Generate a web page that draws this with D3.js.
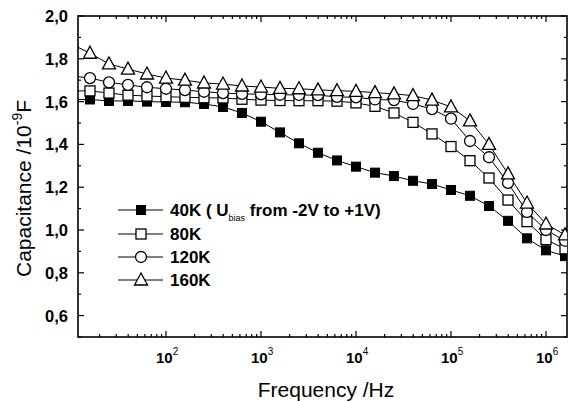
<!DOCTYPE html>
<html><head><meta charset="utf-8">
<script src="https://cdn.jsdelivr.net/npm/d3@7"></script>
<style>body{margin:0;background:#fff}svg{display:block}</style>
</head><body>
<script>
// log10 of frequency for each measured point (0.2 decade steps)
const logFreq = [1.0,1.2,1.4,1.6,1.8,2.0,2.2,2.4,2.6,2.8,3.0,3.2,3.4,3.6,3.8,4.0,4.2,4.4,4.6,4.8,5.0,5.2,5.4,5.6,5.8,6.0,6.2];
const c40K  = [1.61,1.61,1.603,1.603,1.60,1.598,1.597,1.589,1.575,1.547,1.506,1.456,1.405,1.361,1.325,1.296,1.268,1.252,1.230,1.215,1.187,1.160,1.112,1.043,0.961,0.905,0.878];
const c80K  = [1.65,1.65,1.64,1.63,1.626,1.623,1.62,1.618,1.617,1.611,1.607,1.605,1.604,1.604,1.602,1.594,1.578,1.547,1.503,1.449,1.390,1.324,1.243,1.140,1.039,0.955,0.912];
const c120K = [1.72,1.71,1.69,1.678,1.667,1.66,1.654,1.646,1.64,1.636,1.634,1.632,1.631,1.630,1.622,1.620,1.610,1.607,1.589,1.565,1.520,1.416,1.340,1.220,1.084,1.000,0.950];
const c160K = [1.87,1.826,1.776,1.752,1.729,1.71,1.70,1.687,1.682,1.673,1.668,1.662,1.660,1.655,1.651,1.648,1.642,1.636,1.628,1.607,1.575,1.510,1.400,1.262,1.126,1.028,0.977];
const seriesNames = ["40K","80K","120K","160K"];
const yTicks = [0.6,0.8,1.0,1.2,1.4,1.6,1.8,2.0];
const xTickExp = [2,3,4,5,6];

const W=568,H=401;
const m={l:78,r:1,t:16,b:64};
const svg=d3.select("body").append("svg").attr("width",W).attr("height",H);
const x=d3.scaleLog().domain([Math.pow(10,1.074),Math.pow(10,6.221)]).range([m.l,W-m.r]);
const y=d3.scaleLinear().domain([0.5,2.0]).range([H-m.b,m.t]);
const X0=m.l,X1=W-m.r,Y0=H-m.b,Y1=m.t;
const font="'Liberation Sans', Arial, sans-serif";

svg.append("defs").append("clipPath").attr("id","clip")
  .append("rect").attr("x",X0).attr("y",Y1).attr("width",X1-X0).attr("height",Y0-Y1);

// ticks
const g=svg.append("g").attr("stroke","#000").attr("stroke-width",1.2);
const minorY=d3.range(0.5,2.0001,0.1).map(v=>+v.toFixed(2));
minorY.forEach(v=>{
  const major=yTicks.some(t=>Math.abs(t-v)<1e-6);
  const L=major?6:3;
  g.append("line").attr("x1",X0).attr("x2",X0+L).attr("y1",y(v)).attr("y2",y(v));
  g.append("line").attr("x1",X1).attr("x2",X1-L).attr("y1",y(v)).attr("y2",y(v));
});
const xt=[];
for(let e=1;e<=6;e++){for(let k=1;k<10;k++){const f=k*Math.pow(10,e);const px=x(f);if(px>=X0&&px<=X1)xt.push({px,major:k===1});}}
xt.forEach(t=>{
  const L=t.major?6:3;
  g.append("line").attr("x1",t.px).attr("x2",t.px).attr("y1",Y0).attr("y2",Y0-L);
  g.append("line").attr("x1",t.px).attr("x2",t.px).attr("y1",Y1).attr("y2",Y1+L);
});
// frame
svg.append("rect").attr("x",X0).attr("y",Y1).attr("width",X1-X0).attr("height",Y0-Y1)
  .attr("fill","none").attr("stroke","#000").attr("stroke-width",1.6);

// tick labels
yTicks.forEach(v=>{
  svg.append("text").attr("x",X0-10).attr("y",y(v)+6).attr("text-anchor","end")
    .attr("font-family",font).attr("font-weight","bold").attr("font-size",16.5)
    .text(v.toFixed(1).replace(".",","));
});
xTickExp.forEach(e=>{
  const t=svg.append("text").attr("x",x(Math.pow(10,e))-10).attr("y",Y0+26).attr("text-anchor","start")
    .attr("font-family",font).attr("font-weight","bold").attr("font-size",15);
  t.append("tspan").text("10");
  t.append("tspan").attr("font-size",10).attr("dy",-8).attr("font-weight","normal").text(e);
});

// axis titles
const yl=svg.append("text").attr("transform",`translate(31,${(Y0+Y1)/2+12}) rotate(-90)`).attr("text-anchor","middle")
  .attr("font-family",font).attr("font-size",21);
yl.append("tspan").text("Capacitance /10");
yl.append("tspan").attr("font-size",14).attr("dy",-9).text("-9");
yl.append("tspan").attr("dy",9).text("F");
svg.append("text").attr("x",326).attr("y",397).attr("text-anchor","middle")
  .attr("font-family",font).attr("font-size",21).text("Frequency /Hz");

// series
const allSeries=[c40K,c80K,c120K,c160K];
const line=d3.line().x((d,i)=>x(Math.pow(10,logFreq[i]))).y(d=>y(d));
function marker(sel,k){
  if(k===0) sel.append("rect").attr("x",-4.5).attr("y",-4.5).attr("width",9).attr("height",9).attr("fill","#000").attr("stroke","#000");
  else if(k===1) sel.append("rect").attr("x",-5).attr("y",-5).attr("width",10).attr("height",10).attr("fill","#fff").attr("stroke","#000").attr("stroke-width",1.3);
  else if(k===2) sel.append("circle").attr("r",5.5).attr("fill","#fff").attr("stroke","#000").attr("stroke-width",1.3);
  else sel.append("path").attr("d","M0,-7L6.5,5L-6.5,5Z").attr("fill","#fff").attr("stroke","#000").attr("stroke-width",1.3);
}
const pg=svg.append("g").attr("clip-path","url(#clip)");
allSeries.forEach((s,k)=>{
  pg.append("path").datum(s).attr("d",line).attr("fill","none").attr("stroke","#000").attr("stroke-width",1);
});
allSeries.forEach((s,k)=>{
  s.forEach((v,i)=>{
    const mg=pg.append("g").attr("transform",`translate(${x(Math.pow(10,logFreq[i]))},${y(v)})`);
    marker(mg,k);
  });
});

// legend
const legY=[210,234,257,280];
seriesNames.forEach((n,k)=>{
  const ly=legY[k];
  svg.append("line").attr("x1",118).attr("x2",163).attr("y1",ly).attr("y2",ly).attr("stroke","#000").attr("stroke-width",1);
  marker(svg.append("g").attr("transform",`translate(141,${ly})`),k);
  const t=svg.append("text").attr("x",170).attr("y",ly+6).attr("font-family",font)
    .attr("font-weight","bold").attr("font-size",17);
  if(k===0){
    t.append("tspan").text("40K ( U");
    t.append("tspan").attr("font-size",9).attr("font-weight","normal").attr("dy",5).text("bias");
    t.append("tspan").attr("dy",-5).text(" from -2V to +1V)");
  } else t.text(n);
});
</script>
</body></html>
